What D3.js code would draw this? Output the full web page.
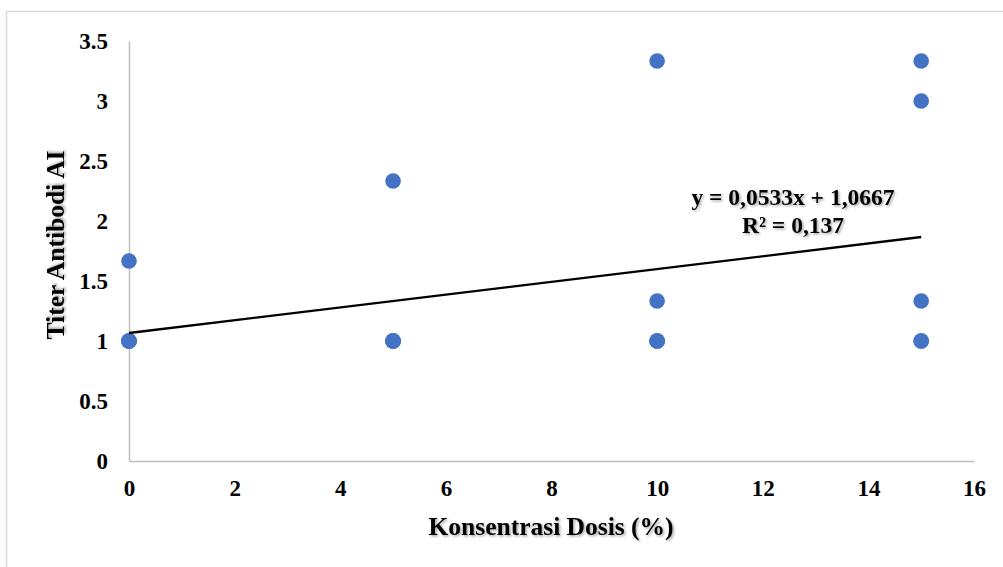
<!DOCTYPE html>
<html>
<head>
<meta charset="utf-8">
<script src="https://cdn.jsdelivr.net/npm/d3@7"></script>
<style>
  html, body { margin: 0; padding: 0; background: #fff; }
  svg { display: block; }
  text { font-family: "Liberation Serif", "Times New Roman", serif; font-weight: bold; fill: #000; }
</style>
</head>
<body>
<svg id="chart" width="1003" height="567"></svg>
<script>
// Data: dose concentration (%) and AI antibody titer
const doses  = [0, 0, 0, 0, 0, 5, 5, 5, 5, 5, 10, 10, 10, 10, 10, 15, 15, 15, 15, 15];
const titers = [1, 1, 1, 1, 1.667, 1, 1, 1, 1, 2.333, 1, 1, 1, 1.333, 3.333, 1, 1, 1.333, 3, 3.333];
const xTicks = [0, 2, 4, 6, 8, 10, 12, 14, 16];
const yTicks = [0, 0.5, 1, 1.5, 2, 2.5, 3, 3.5];
const trendSlope = 0.0533;
const trendIntercept = 1.0667;
const trendRange = [0, 15];
const equationLines = ["y = 0,0533x + 1,0667", "R² = 0,137"];
const xTitle = "Konsentrasi Dosis (%)";
const yTitle = "Titer Antibodi AI";

const svg = d3.select("#chart");

// Shadow filter for texts
const defs = svg.append("defs");
const f = defs.append("filter").attr("id", "shadow")
  .attr("x", "-10%").attr("y", "-30%").attr("width", "130%").attr("height", "170%");
f.append("feDropShadow").attr("dx", 1.5).attr("dy", 1.5)
  .attr("stdDeviation", 1).attr("flood-color", "#000").attr("flood-opacity", 0.35);

// Chart area border
svg.append("rect")
  .attr("x", 6.5).attr("y", 11.5).attr("width", 1010).attr("height", 570)
  .attr("fill", "none").attr("stroke", "#D9D9D9").attr("stroke-width", 1.5);

const plot = { left: 129, right: 974, top: 41, bottom: 461 };

const x = d3.scaleLinear().domain([0, 16]).range([plot.left, plot.right]);
const y = d3.scaleLinear().domain([0, 3.5]).range([plot.bottom, plot.top]);

// Axes
const xAxis = svg.append("g").attr("transform", `translate(0,${plot.bottom})`)
  .call(d3.axisBottom(x).tickValues(xTicks).tickSize(0).tickPadding(19).tickFormat(d3.format("d")));
const yAxis = svg.append("g").attr("transform", `translate(${plot.left},0)`)
  .call(d3.axisLeft(y).tickValues(yTicks).tickSize(0).tickPadding(21).tickFormat(d => String(d)));

[xAxis, yAxis].forEach(a => {
  a.select(".domain").attr("stroke", "#BFBFBF").attr("stroke-width", 1.5);
  a.selectAll("text").style("font-size", "23px").style("font-family", "'Liberation Serif', serif")
    .style("font-weight", "bold").attr("fill", "#000");
});
xAxis.selectAll("text").attr("dy", "0.71em");
yAxis.selectAll("text").attr("dy", "0.34em");

// Points
const pts = doses.map((d, i) => ({ x: d, y: titers[i] }));
svg.append("g").selectAll("circle").data(pts).join("circle")
  .attr("cx", d => x(d.x)).attr("cy", d => y(d.y)).attr("r", 7.8)
  .attr("fill", "#4472C4");

// Trendline
const trend = trendRange.map(v => ({ x: v, y: trendIntercept + trendSlope * v }));
svg.append("path").datum(trend)
  .attr("d", d3.line().x(d => x(d.x)).y(d => y(d.y)))
  .attr("fill", "none").attr("stroke", "#000").attr("stroke-width", 2.4);

// Equation label
const eq = svg.append("text").attr("text-anchor", "middle").attr("filter", "url(#shadow)")
  .style("font-size", "23.5px");
eq.selectAll("tspan").data(equationLines).join("tspan")
  .attr("x", 793).attr("y", (d, i) => 205 + i * 28).text(d => d);

// Axis titles
svg.append("text").attr("x", 551).attr("y", 535).attr("text-anchor", "middle")
  .attr("filter", "url(#shadow)").style("font-size", "25.5px").text(xTitle);
svg.append("text").attr("transform", "translate(64,245) rotate(-90)").attr("text-anchor", "middle")
  .attr("filter", "url(#shadow)").style("font-size", "25.5px").text(yTitle);
</script>
</body>
</html>
